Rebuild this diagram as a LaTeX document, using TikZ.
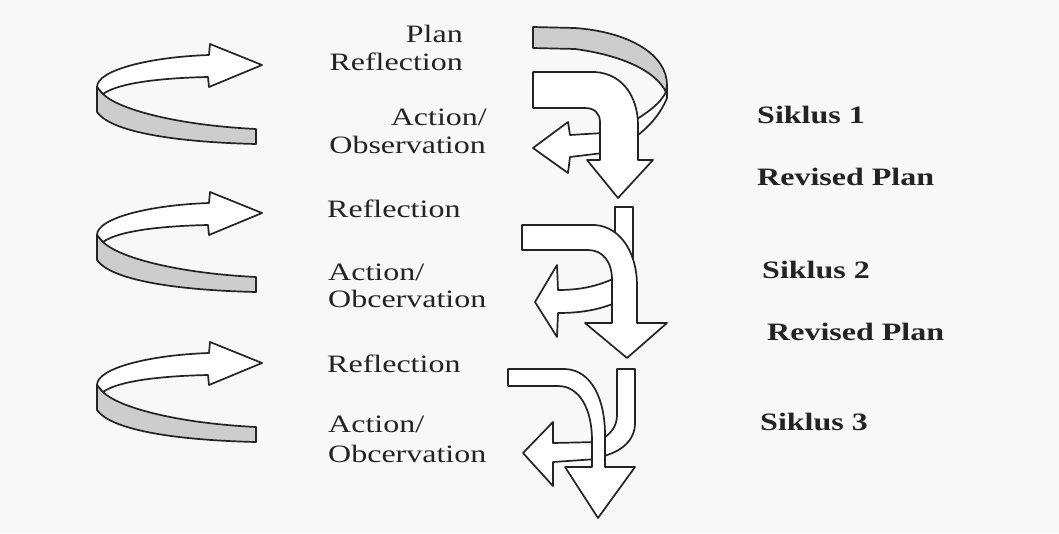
\documentclass[tikz,border=0pt]{standalone}
\usepackage{fontspec}
\setmainfont{Liberation Serif}[FakeStretch=1.28]
\usetikzlibrary{positioning}
\definecolor{paper}{RGB}{248,248,248}
\definecolor{ink}{RGB}{35,35,35}
\definecolor{shade}{RGB}{205,205,205}

\begin{document}
\begin{tikzpicture}[
    x=1pt, y=-1pt,
    outline/.style={draw=ink, line width=1.7pt, line join=round, fill=white},
    band/.style={draw=ink, line width=1.7pt, line join=round, fill=shade},
    phase/.style={font=\fontsize{25}{30}\selectfont, text=ink, inner sep=0pt},
    siklus/.style={font=\fontsize{25}{30}\selectfont\bfseries, text=ink, inner sep=0pt},
    ribbon/.pic={
        \draw[band] (-165,22) -- (-165,47) .. controls (-152,66) and (-92,77) .. (-6,79) -- (-6,64) .. controls (-87,60) and (-144,44) .. (-159,29) -- cycle;
        \draw[outline] (-53,-10) -- (-52,-21) -- (0,0) -- (-53,22) -- (-54,12) .. controls (-102,13) and (-144,18) .. (-159,29) -- (-165,22) .. controls (-165,5) and (-112,-8) .. (-53,-10) -- cycle;
    }
]
\fill[paper] (0,0) rectangle (1059,533);
\useasboundingbox (0,0) rectangle (1059,533);

\pic at (262,65) {ribbon};
\pic at (262,213) {ribbon};
\pic at (262,363) {ribbon};

% cycle 1
\draw[outline] (667,85) -- (667,98) .. controls (660,115) and (648,128) .. (634,138) -- (634,121) .. controls (648,112) and (660,104) .. (666,92) -- cycle;
\draw[band] (533,27) -- (575,28) .. controls (630,32) and (667,55) .. (667,85) -- (666,92) .. controls (655,70) and (620,55) .. (575,49) -- (533,48) -- cycle;
\draw[outline] (603,133) -- (570,135) -- (568,122) -- (533,148) -- (568,173) -- (570,157) -- (603,153) -- cycle;
\draw[outline] (533,72) -- (595,72) .. controls (625,74) and (638,100) .. (638,125) -- (638,160) -- (653,160) -- (618,198) -- (587,160) -- (600,160) -- (600,122) .. controls (600,114) and (595,108) .. (585,108) -- (533,108) -- cycle;

% cycle 2
\draw[outline] (615,207) rectangle (633,290);
\draw[outline] (615,278) .. controls (596,287) and (578,290) .. (558,290) -- (557,265) -- (535,302) -- (557,337) -- (558,313) .. controls (580,313) and (598,310) .. (615,303) -- cycle;
\draw[outline] (522,225) -- (595,225) .. controls (622,227) and (637,255) .. (637,285) -- (637,323) -- (667,323) -- (627,358) -- (585,323) -- (612,323) -- (612,280) .. controls (612,262) and (603,250) .. (588,250) -- (522,250) -- cycle;

% cycle 3
\draw[outline] (617,369) -- (635,369) -- (635,423) .. controls (635,440) and (622,452) .. (600,457) -- (600,440) .. controls (612,434) and (617,425) .. (617,415) -- cycle;
\draw[outline] (597,442) -- (553,443) -- (553,422) -- (523,453) -- (553,486) -- (553,462) -- (597,459) -- cycle;
\draw[outline] (508,369) -- (565,369) .. controls (592,370) and (605,400) .. (605,435) -- (605,467) -- (635,467) -- (598,518) -- (565,467) -- (592,467) -- (592,440) .. controls (592,410) and (580,386) .. (558,386) -- (508,386) -- cycle;

\node[phase, anchor=base east] (plan) at (463,42) {Plan};
\node[phase, anchor=base east] (refl1) at (463,70) {Reflection};
\node[phase, anchor=base east] (act1) at (487,125) {Action/};
\node[phase, anchor=base east] (obs1) at (486,153) {Observation};
\node[siklus, anchor=base west] (sik1) at (757,123) {Siklus 1};
\node[siklus, anchor=base west] (rev1) at (757,185) {Revised Plan};

\node[phase, anchor=base west] (refl2) at (327,217) {Reflection};
\node[phase, anchor=base west] (act2) at (328,280) {Action/};
\node[phase, anchor=base west] (obs2) at (328,307) {Obcervation};
\node[siklus, anchor=base west] (sik2) at (762,278) {Siklus 2};
\node[siklus, anchor=base west] (rev2) at (767,340) {Revised Plan};

\node[phase, anchor=base west] (refl3) at (327,372) {Reflection};
\node[phase, anchor=base west] (act3) at (328,432) {Action/};
\node[phase, anchor=base west] (obs3) at (328,462) {Obcervation};
\node[siklus, anchor=base west] (sik3) at (760,430) {Siklus 3};
\end{tikzpicture}
\end{document}
